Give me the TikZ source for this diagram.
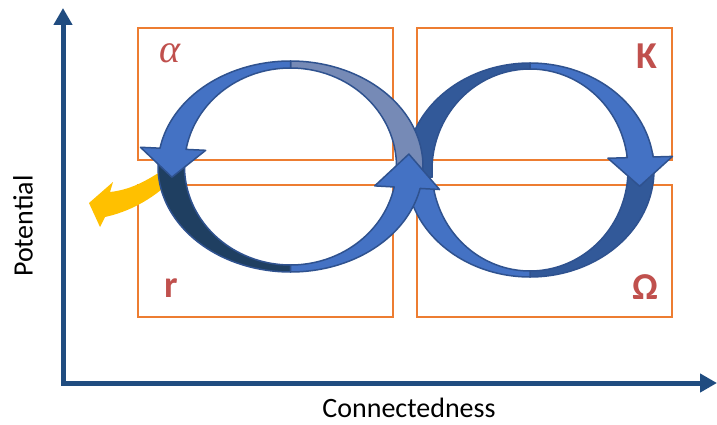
\documentclass[tikz,border=0pt]{standalone}
\usepackage{fontspec}
\setmainfont{Carlito}
\newfontfamily\alphafont{Liberation Serif}
\usetikzlibrary{arrows.meta,calc}
\definecolor{axisblue}{RGB}{32,76,128}
\definecolor{boxorange}{RGB}{237,125,49}
\definecolor{labelred}{RGB}{192,80,77}
\definecolor{medblue}{RGB}{68,114,196}
\definecolor{edgeblue}{RGB}{47,82,143}
\definecolor{darkblue}{RGB}{50,89,153}
\definecolor{navyblue}{RGB}{31,63,97}
\definecolor{greyblue}{RGB}{118,138,182}
\definecolor{yellowarrow}{RGB}{255,192,0}
\tikzset{
  axisline/.style={draw=axisblue, line width=5pt},
  quadbox/.style={draw=boxorange, line width=2.8pt},
  bandline/.style={draw=edgeblue, line width=1.5pt, line join=round},
  quadlabel/.style={text=labelred, font=\fontsize{38}{38}\selectfont\bfseries, inner sep=0pt},
  axislabel/.style={text=black, font=\fontsize{28}{28}\selectfont, inner sep=0pt}
}
\newcommand{\setring}[6]{\def\lcx{#1}\def\lcy{#2}\def\lrxo{#3}\def\lryo{#4}\def\lrxi{#5}\def\lryi{#6}}
\newcommand{\ringband}[3]{%
  \filldraw[bandline, fill=#3]
    plot[domain=#1:#2, samples=60] ({\lcx+\lrxo*cos(\x)},{\lcy+\lryo*sin(\x)})
    -- plot[domain=#2:#1, samples=60] ({\lcx+\lrxi*cos(\x)},{\lcy+\lryi*sin(\x)})
    -- cycle;}
\newcommand{\ringarrow}[4]{%
  \path ({\lcx+\lrxo*cos(#2)},{\lcy+\lryo*sin(#2)}) coordinate (ho)
        ({\lcx+\lrxi*cos(#2)},{\lcy+\lryi*sin(#2)}) coordinate (hi)
        ({\lcx+0.5*(\lrxo+\lrxi)*cos(#3)},{\lcy+0.5*(\lryo+\lryi)*sin(#3)}) coordinate (ht);
  \filldraw[bandline, fill=#4]
    plot[domain=#1:#2, samples=60] ({\lcx+\lrxo*cos(\x)},{\lcy+\lryo*sin(\x)})
    -- ($(ho)!-0.75!(hi)$) -- (ht) -- ($(hi)!-0.75!(ho)$)
    -- plot[domain=#2:#1, samples=60] ({\lcx+\lrxi*cos(\x)},{\lcy+\lryi*sin(\x)})
    -- cycle;}
\begin{document}
\begin{tikzpicture}[x=1pt, y=-1pt]
\useasboundingbox (0,0) rectangle (717,425);
\fill[white] (0,0) rectangle (717,425);
% axes
\coordinate (origin) at (63,383);
\coordinate (ytip) at (63,8);
\coordinate (xtip) at (717,383);
\draw[axisline, {Triangle[width=18pt,length=17pt]}-{Triangle[width=18pt,length=17pt]}] (ytip) -- (origin) -- (xtip);
\node[axislabel, rotate=90] (potential) at (23,226) {Potential};
\node[axislabel] (connectedness) at (409,408) {Connectedness};
% quadrant boxes
\draw[quadbox] (138,28) rectangle (393,160);
\draw[quadbox] (138,185) rectangle (393,317);
\draw[quadbox] (417,28) rectangle (672,160);
\draw[quadbox] (417,185) rectangle (672,317);
\node[quadlabel, font=\fontsize{40}{40}\selectfont\alphafont\itshape] (alpha) at (170,53) {α};
\node[quadlabel] (kappa) at (647,56) {K};
\node[quadlabel] (rlabel) at (171,288) {r};
\node[quadlabel] (omega) at (645,287) {Ω};
% right loop
\setring{530}{170}{124}{107}{98}{101}
\ringband{176}{270}{darkblue}
\ringband{-9}{90}{darkblue}
\ringarrow{-90}{-7}{9}{medblue}
\ringband{90}{172}{medblue}
% yellow release arrow
\fill[yellowarrow] (170,165) .. controls (145,183) and (128,190) .. (110,192)
  -- (113,182) -- (89,203) -- (100,227) -- (105,217)
  .. controls (128,212) and (152,200) .. (172,180) -- cycle;
% left loop
\setring{290.5}{166.5}{132.5}{105.5}{106}{98.5}
\ringband{90}{188}{navyblue}
\ringband{-90}{10}{greyblue}
\ringarrow{270}{190}{174}{medblue}
\ringarrow{90}{12}{-7}{medblue}
\end{tikzpicture}
\end{document}
